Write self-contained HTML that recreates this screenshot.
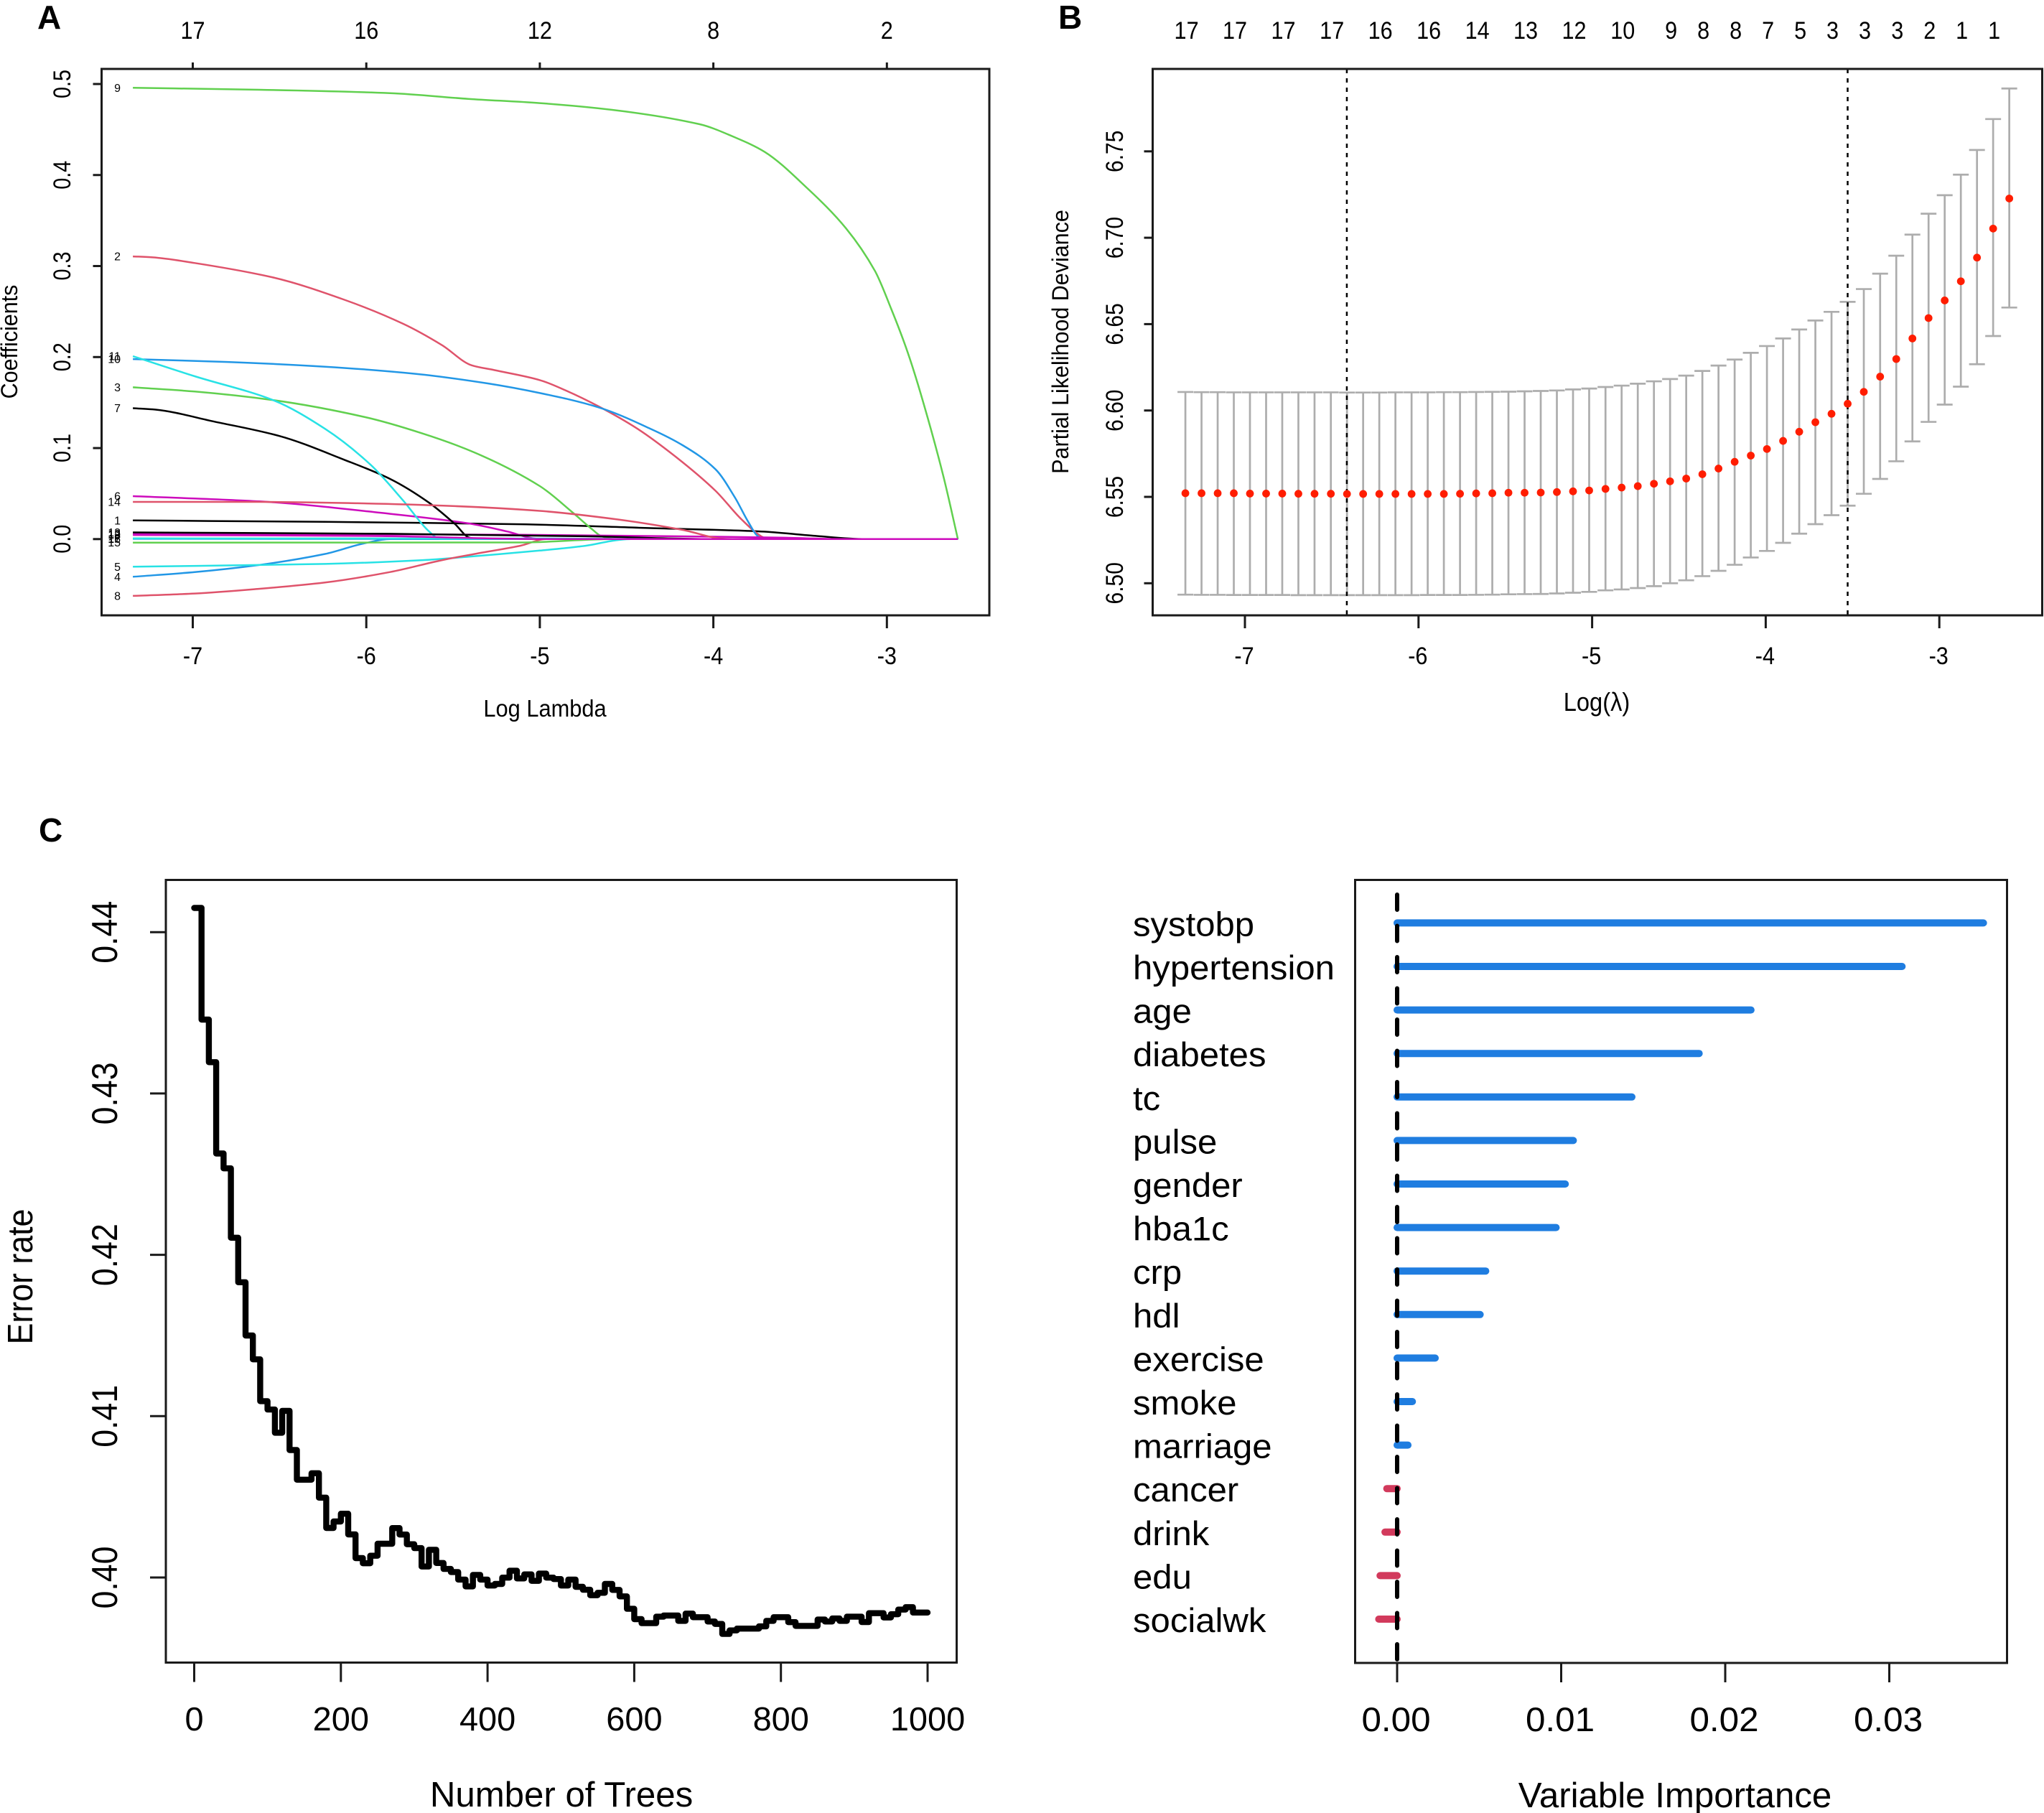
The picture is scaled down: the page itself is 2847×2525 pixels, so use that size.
<!DOCTYPE html>
<html lang="en">
<head>
<meta charset="utf-8">
<title>LASSO and random forest variable selection</title>
<style>
html,body{margin:0;padding:0;background:#fff;}
svg{display:block;font-family:"Liberation Sans",sans-serif;}
</style>
</head>
<body>
<svg id="fig" xmlns="http://www.w3.org/2000/svg" width="2847" height="2525" viewBox="0 0 2847 2525">
  <rect x="0" y="0" width="2847" height="2525" fill="#fff"/>
  <text x="52" y="40" font-size="46" font-weight="bold">A</text>
  <text x="1474" y="40" font-size="46" font-weight="bold">B</text>
  <text x="54" y="1172" font-size="46" font-weight="bold">C</text>

  <g id="panelA"></g>
  <g id="panelB"></g>
  <g id="panelC"></g>
  <g id="panelD"></g>

  <text transform="translate(24,476) rotate(-90) scale(1,1.05)" text-anchor="middle" font-size="30.5">Coefficients</text>
  <text transform="translate(759,998) scale(1.01,1.1)" text-anchor="middle" font-size="30.5">Log Lambda</text>
  <text transform="translate(1488,476) rotate(-90) scale(1.03,1.1)" text-anchor="middle" font-size="29.6">Partial Likelihood Deviance</text>
  <text transform="translate(2224,990) scale(1.02,1.12)" text-anchor="middle" font-size="32">Log(&#955;)</text>
  <text transform="translate(45,1778) rotate(-90) scale(1.04,1.15)" text-anchor="middle" font-size="43">Error rate</text>
  <text transform="translate(782,2516) scale(1.025,1.03)" text-anchor="middle" font-size="48">Number of Trees</text>
  <text transform="translate(2333,2517) scale(1.025,1.03)" text-anchor="middle" font-size="48">Variable Importance</text>
</svg>

<script>
/* ---------- Panel A: coefficient paths ---------- */
const aXTicks = [-7, -6, -5, -4, -3];
const aYTicks = [0, 0.1, 0.2, 0.3, 0.4, 0.5];
const aYTickLabels = ['0.0', '0.1', '0.2', '0.3', '0.4', '0.5'];
const aTopLabels = ['17', '16', '12', '8', '2'];
const aSeriesColors = ['#000000', '#DF536B', '#61D04F', '#2297E6', '#28E2E5', '#CD0BBC'];
const s1 = [[-7.345,.0205],[-6.238,.0189],[-5.113,.0163],[-4.362,.0121],[-3.724,.0084],[-3.424,.0037],[-3.124,0],[-2.591,0]];
const s2 = [[-7.345,.3106],[-7.233,.3096],[-6.989,.3033],[-6.538,.2875],[-6.126,.2629],[-5.788,.2366],[-5.563,.2130],[-5.394,.1910],[-5.263,.1857],[-5.0,.1747],[-4.85,.1632],[-4.662,.1459],[-4.437,.1212],[-4.212,.0897],[-3.987,.0530],[-3.837,.0215],[-3.724,.0031],[-3.687,0],[-2.591,0]];
const s3 = [[-7.345,.1668],[-6.989,.1621],[-6.538,.1527],[-6.013,.1343],[-5.675,.1160],[-5.375,.0950],[-5.0,.0582],[-4.812,.0294],[-4.700,.0110],[-4.644,.0031],[-4.568,0],[-2.591,0]];
const s4 = [[-7.345,-.0414],[-6.989,-.0362],[-6.614,-.0283],[-6.238,-.0163],[-6.013,-.0047],[-5.863,0],[-2.591,0]];
const s5 = [[-7.345,-.0304],[-6.238,-.0273],[-5.675,-.0231],[-5.413,-.0194],[-5.0,-.0126],[-4.737,-.0073],[-4.55,-.0010],[-4.475,0],[-2.591,0]];
const s6 = [[-7.345,.0472],[-6.614,.0414],[-5.863,.0278],[-5.413,.0173],[-5.188,.0084],[-5.02,.0005],[-4.925,0],[-2.591,0]];
const s7 = [[-7.345,.1438],[-7.214,.1422],[-6.876,.1291],[-6.501,.1133],[-6.126,.0871],[-5.863,.0661],[-5.638,.0399],[-5.488,.0163],[-5.405,.0016],[-5.338,0],[-2.591,0]];
const s8 = [[-7.345,-.0624],[-6.989,-.0598],[-6.614,-.0546],[-6.238,-.0477],[-5.863,-.0362],[-5.563,-.0231],[-5.375,-.0163],[-5.113,-.0073],[-4.962,0],[-2.591,0]];
const s9 = [[-7.345,.4958],[-6.614,.4937],[-5.863,.4900],[-5.413,.4837],[-5.0,.4790],[-4.587,.4717],[-4.081,.4559],[-3.874,.4412],[-3.705,.4255],[-3.462,.3861],[-3.236,.3415],[-3.068,.2943],[-2.974,.2524],[-2.880,.2051],[-2.786,.1474],[-2.674,.0687],[-2.591,0]];
const s10 = [[-7.345,.1978],[-6.801,.1946],[-6.238,.1894],[-5.713,.1815],[-5.300,.1710],[-5.0,.1605],[-4.662,.1448],[-4.362,.1212],[-4.174,.1028],[-3.987,.0766],[-3.874,.0451],[-3.799,.0189],[-3.743,.0031],[-3.705,0],[-2.591,0]];
const s11 = [[-7.345,.2009],[-6.989,.1789],[-6.538,.1527],[-6.238,.1212],[-5.976,.0818],[-5.788,.0425],[-5.638,.0084],[-5.574,0],[-2.591,0]];
const s12 = [[-7.345,.0058],[-5.113,.0047],[-3.987,.0026],[-3.612,.0016],[-3.236,0],[-2.591,0]];
const s13 = [[-7.345,.0073],[-5.863,.0058],[-4.737,.0031],[-3.987,0],[-2.591,0]];
const s14 = [[-7.345,.0409],[-6.614,.0409],[-6.051,.0394],[-5.488,.0362],[-5.0,.0310],[-4.550,.0215],[-4.174,.0100],[-3.949,.0005],[-3.874,0],[-2.591,0]];
const s15 = [[-7.345,-.0039],[-5.113,-.0037],[-4.568,0],[-2.591,0]];
const s16 = [[-7.345,.0003],[-5.0,.0002],[-4.5,0],[-2.591,0]];
const s17 = [[-7.345,.0008],[-5.0,.0006],[-4.3,0],[-2.591,0]];
const s18 = [[-7.345,.0045],[-6.0,.0035],[-4.962,0],[-2.591,0]];
const aSeries = [s1,s2,s3,s4,s5,s6,s7,s8,s9,s10,s11,s12,s13,s14,s15,s16,s17,s18];

/* ---------- Panel B: cross-validated deviance ---------- */
const bLogLambda = [-7.343,-7.250,-7.157,-7.064,-6.971,-6.878,-6.785,-6.692,-6.599,-6.505,-6.412,-6.319,-6.226,-6.133,-6.040,-5.947,-5.854,-5.761,-5.668,-5.575,-5.482,-5.389,-5.296,-5.203,-5.110,-5.017,-4.923,-4.830,-4.737,-4.644,-4.551,-4.458,-4.365,-4.272,-4.179,-4.086,-3.993,-3.900,-3.807,-3.714,-3.621,-3.528,-3.435,-3.341,-3.248,-3.155,-3.062,-2.969,-2.876,-2.783,-2.690,-2.597];
const bMean = [6.5521,6.5521,6.5521,6.5521,6.5519,6.5519,6.5519,6.5518,6.5518,6.5518,6.5517,6.5517,6.5517,6.5517,6.5517,6.5517,6.5517,6.5518,6.5520,6.5521,6.5524,6.5524,6.5525,6.5528,6.5532,6.5537,6.5546,6.5554,6.5562,6.5576,6.5590,6.5606,6.5631,6.5664,6.5703,6.5739,6.5777,6.5824,6.5877,6.5932,6.5981,6.6039,6.6108,6.6196,6.6298,6.6417,6.6535,6.6637,6.6748,6.6885,6.7053,6.7227];
const bUpper = [6.6107,6.6106,6.6106,6.6105,6.6105,6.6105,6.6105,6.6105,6.6105,6.6105,6.6104,6.6104,6.6104,6.6105,6.6105,6.6105,6.6106,6.6106,6.6107,6.6108,6.6109,6.6111,6.6113,6.6116,6.6122,6.6127,6.6136,6.6144,6.6155,6.6169,6.6182,6.6202,6.6229,6.6260,6.6295,6.6334,6.6373,6.6417,6.6469,6.6521,6.6571,6.6629,6.6703,6.6792,6.6896,6.7018,6.7139,6.7246,6.7365,6.7508,6.7687,6.7864];
const bLower = [6.4934,6.4933,6.4933,6.4932,6.4932,6.4932,6.4932,6.4931,6.4931,6.4931,6.4931,6.4931,6.4931,6.4931,6.4931,6.4932,6.4932,6.4932,6.4933,6.4934,6.4936,6.4937,6.4938,6.4941,6.4945,6.4950,6.4959,6.4964,6.4972,6.4983,6.5000,6.5017,6.5041,6.5072,6.5107,6.5149,6.5187,6.5234,6.5287,6.5342,6.5394,6.5449,6.5518,6.5604,6.5706,6.5821,6.5934,6.6034,6.6138,6.6268,6.6431,6.6596];
const bXTicks = [-7, -6, -5, -4, -3];
const bYTicks = [6.50, 6.55, 6.60, 6.65, 6.70, 6.75];
const bYTickLabels = ['6.50', '6.55', '6.60', '6.65', '6.70', '6.75'];
const bTopIndex = [0,3,6,9,12,15,18,21,24,27,30,32,34,36,38,40,42,44,46,48,50];
const bTopLabels = ['17','17','17','17','16','16','14','13','12','10','9','8','8','7','5','3','3','3','2','1','1'];
const bVLines = [-6.413, -3.528];

/* ---------- Panel C: error rate vs trees (step starts) ---------- */
const cTrees = [0,10,20,30,40,50,60,70,80,90,100,110,120,130,140,160,170,180,190,200,210,220,230,240,250,270,280,290,300,310,320,330,340,350,360,370,380,390,400,410,420,430,440,450,460,470,480,490,500,510,520,530,540,550,560,570,580,590,600,610,630,640,660,670,680,700,710,720,730,740,770,780,790,810,820,850,860,870,880,890,910,920,940,950,960,970,980,1000];
const cError = [.4415,.43458,.43194,.42628,.42536,.42106,.4183,.415,.41352,.41093,.41041,.40897,.41033,.4079,.40606,.40646,.40495,.40307,.40347,.40395,.40267,.4012,.40088,.40135,.40209,.40306,.40266,.40206,.40182,.40068,.40172,.4009,.40053,.40034,.39987,.39945,.40016,.39987,.3995,.3996,.39999,.40042,.39994,.40019,.39979,.40024,.39999,.3999,.3995,.39987,.39942,.39924,.3989,.39905,.3996,.39923,.39883,.39806,.39742,.39717,.39757,.39764,.39731,.39776,.39754,.39727,.39712,.3965,.39672,.39683,.39697,.39731,.39754,.39723,.397,.39739,.39727,.39746,.39731,.39757,.39724,.39779,.39752,.39772,.39801,.39816,.39783,.39783];
const cXTicks = [0, 200, 400, 600, 800, 1000];
const cYTicks = [0.40, 0.41, 0.42, 0.43, 0.44];
const cYTickLabels = ['0.40', '0.41', '0.42', '0.43', '0.44'];

/* ---------- Panel D: variable importance ---------- */
const dVariables = ['systobp','hypertension','age','diabetes','tc','pulse','gender','hba1c','crp','hdl','exercise','smoke','marriage','cancer','drink','edu','socialwk'];
const dImportance = [.03574,.03078,.02157,.01841,.01431,.01074,.01025,.00969,.0054,.00506,.00232,.00093,.00066,-.00063,-.00074,-.00104,-.00112];
const dXTicks = [0, 0.01, 0.02, 0.03];
const dXTickLabels = ['0.00', '0.01', '0.02', '0.03'];

/* ---------- Helpers ---------- */
const NS = 'http://www.w3.org/2000/svg';
function make(tag, parent, attrs) {
  const node = document.createElementNS(NS, tag);
  for (const k in attrs) node.setAttribute(k, attrs[k]);
  parent.appendChild(node);
  return node;
}
function label(parent, x, y, str, size, anchor, rotated, sx, sy) {
  const attrs = {'font-size': size, 'text-anchor': anchor || 'middle'};
  attrs.transform = 'translate(' + x + ',' + y + ')' + (rotated ? ' rotate(-90)' : '') +
    ' scale(' + (sx || 1) + ',' + (sy || 1) + ')';
  const t = make('text', parent, attrs);
  t.textContent = str;
  return t;
}
function seg(parent, x1, y1, x2, y2, color, width) {
  return make('line', parent, {x1: x1, y1: y1, x2: x2, y2: y2, stroke: color, 'stroke-width': width});
}
function frame(parent, l, t, r, b) {
  return make('rect', parent, {x: l, y: t, width: r - l, height: b - t, fill: 'none', stroke: '#1a1a1a', 'stroke-width': 3});
}
/* Monotone cubic path through pixel points, so the coefficient curves stay smooth without overshoot. */
function smoothPath(pts) {
  const n = pts.length, dx = [], m = [], t = [];
  for (let i = 0; i < n - 1; i++) {
    dx[i] = pts[i + 1][0] - pts[i][0];
    m[i] = (pts[i + 1][1] - pts[i][1]) / dx[i];
  }
  t[0] = m[0];
  t[n - 1] = m[n - 2];
  for (let i = 1; i < n - 1; i++) {
    t[i] = (m[i - 1] * m[i] <= 0) ? 0 : 2 * m[i - 1] * m[i] / (m[i - 1] + m[i]);
  }
  let d = 'M' + pts[0][0].toFixed(1) + ' ' + pts[0][1].toFixed(1);
  for (let i = 0; i < n - 1; i++) {
    const h = dx[i] / 3;
    d += ' C' + (pts[i][0] + h).toFixed(1) + ' ' + (pts[i][1] + t[i] * h).toFixed(1) + ' ' +
      (pts[i + 1][0] - h).toFixed(1) + ' ' + (pts[i + 1][1] - t[i + 1] * h).toFixed(1) + ' ' +
      pts[i + 1][0].toFixed(1) + ' ' + pts[i + 1][1].toFixed(1);
  }
  return d;
}

/* ---------- Draw panel A ---------- */
(function () {
  const g = document.getElementById('panelA');
  const L = 141.5, R = 1378, T = 96, B = 857;
  const x = v => 268.5 + (v + 7) * 241.7;
  const y = v => 750.8 - v * 1267.6;
  aSeries.forEach((pts, i) => {
    const p = make('path', g, {fill: 'none', stroke: aSeriesColors[i % 6], 'stroke-width': 2.5, 'stroke-linejoin': 'round',
      d: smoothPath(pts.map(d => [x(d[0]), y(d[1])]))});
    
    
    const t = label(g, 168, y(pts[0][1]) + 5.5, String(i + 1), 16, 'end');
    
    
  });
  const box = frame(g, L, T, R, B);
  
  
  aXTicks.forEach((v, i) => {
    const m = seg(g, x(v), B, x(v), B + 18, '#1a1a1a', 3);
    
    
    const tl = label(g, x(v), 925, String(v), 30, 'middle', false, 1.02, 1.15);
    
    
    const tt = seg(g, x(v), T - 9, x(v), T, '#1a1a1a', 3);
    
    
    const tp = label(g, x(v), 54, aTopLabels[i], 30, 'middle', false, 1.02, 1.15);
    
    
  });
  aYTicks.forEach((v, i) => {
    const m = seg(g, L - 12, y(v), L, y(v), '#1a1a1a', 3);
    
    
    const tl = label(g, 98, y(v), aYTickLabels[i], 30, 'middle', true, 0.96, 1.15);
    
    
  });
})();

/* ---------- Draw panel B ---------- */
(function () {
  const g = document.getElementById('panelB');
  const L = 1605.5, R = 2844.5, T = 96, B = 857;
  const x = v => 1734 + (v + 7) * 241.8;
  const y = v => 812.3 - (v - 6.5) * 2406;
  bLogLambda.forEach((v, i) => {
    const px = x(v);
    const stem = seg(g, px, y(bUpper[i]), px, y(bLower[i]), '#adadad', 2.7);
    
    
    const capU = seg(g, px - 11, y(bUpper[i]), px + 11, y(bUpper[i]), '#adadad', 2.7);
    
    
    const capL = seg(g, px - 11, y(bLower[i]), px + 11, y(bLower[i]), '#adadad', 2.7);
    
    
  });
  bVLines.forEach(v => {
    const d = seg(g, x(v), T, x(v), B, '#000', 2.5);
    d.setAttribute('stroke-dasharray', '6 7');
    
    
  });
  bLogLambda.forEach((v, i) => {
    const c = make('circle', g, {cx: x(v), cy: y(bMean[i]), r: 5.4, fill: '#ff1d00'});
    
    
  });
  const box = frame(g, L, T, R, B);
  
  
  bXTicks.forEach(v => {
    const m = seg(g, x(v), B, x(v), B + 18, '#1a1a1a', 3);
    
    
    const tl = label(g, x(v) - 1, 925, String(v), 30, 'middle', false, 1.02, 1.15);
    
    
  });
  bYTicks.forEach((v, i) => {
    const m = seg(g, L - 12, y(v), L, y(v), '#1a1a1a', 3);
    
    
    const tl = label(g, 1564, y(v), bYTickLabels[i], 30, 'middle', true, 1.0, 1.13);
    
    
  });
  bTopIndex.forEach((idx, i) => {
    const tl = label(g, x(bLogLambda[idx]) + 1.5, 54, bTopLabels[i], 30, 'middle', false, 1.02, 1.15);
    
    
  });
})();

/* ---------- Draw panel C ---------- */
(function () {
  const g = document.getElementById('panelC');
  const L = 231, R = 1332.5, T = 1225.5, B = 2315.5;
  const x = v => 270.5 + v * 1.0215;
  const y = v => 2197 - (v - 0.40) * 22470;
  let d = 'M' + x(cTrees[0]).toFixed(1) + ' ' + y(cError[0]).toFixed(1);
  for (let i = 1; i < cTrees.length; i++) {
    d += ' H' + x(cTrees[i]).toFixed(1) + ' V' + y(cError[i]).toFixed(1);
  }
  const line = make('path', g, {d: d, fill: 'none', stroke: '#000', 'stroke-width': 8.4, 'stroke-linejoin': 'round', 'stroke-linecap': 'round'});
  
  
  const box = frame(g, L, T, R, B);
  
  
  cXTicks.forEach(v => {
    const m = seg(g, x(v), B, x(v), B + 27, '#1a1a1a', 3);
    
    
    const tl = label(g, x(v), 2410, String(v), 46, 'middle', false, 1.02, 1);
    
    
  });
  cYTicks.forEach((v, i) => {
    const m = seg(g, L - 22, y(v), L, y(v), '#1a1a1a', 3);
    
    
    const tl = label(g, 163, y(v), cYTickLabels[i], 43, 'middle', true, 1.04, 1.17);
    
    
  });
})();

/* ---------- Draw panel D ---------- */
(function () {
  const g = document.getElementById('panelD');
  const L = 1887.5, R = 2795.5, T = 1225.5, B = 2316;
  const x = v => 1946 + v * 22850;
  const rowY = i => 1285.4 + i * 60.6;
  dVariables.forEach((name, i) => {
    const v = dImportance[i];
    const bar = seg(g, x(0), rowY(i), x(v), rowY(i), v >= 0 ? '#1f7de0' : '#d23a5c', 10);
    bar.setAttribute('stroke-linecap', 'round');
    
    
    const tl = label(g, 1578, rowY(i) + 18, name, 47.5, 'start', false, 1.033, 1);
    
    
  });
  const zero = seg(g, x(0), 1246, x(0), B, '#000', 6);
  zero.setAttribute('stroke-dasharray', '21 22.5');
  zero.setAttribute('stroke-linecap', 'round');
  
  
  const box = frame(g, L, T, R, B);
  
  
  dXTicks.forEach((v, i) => {
    const m = seg(g, x(v), B, x(v), B + 27, '#1a1a1a', 3);
    
    
    const tl = label(g, x(v) - 1.5, 2411, dXTickLabels[i], 47.5, 'middle', false, 1.04, 1);
    
    
  });
})();
</script>
</body>
</html>
